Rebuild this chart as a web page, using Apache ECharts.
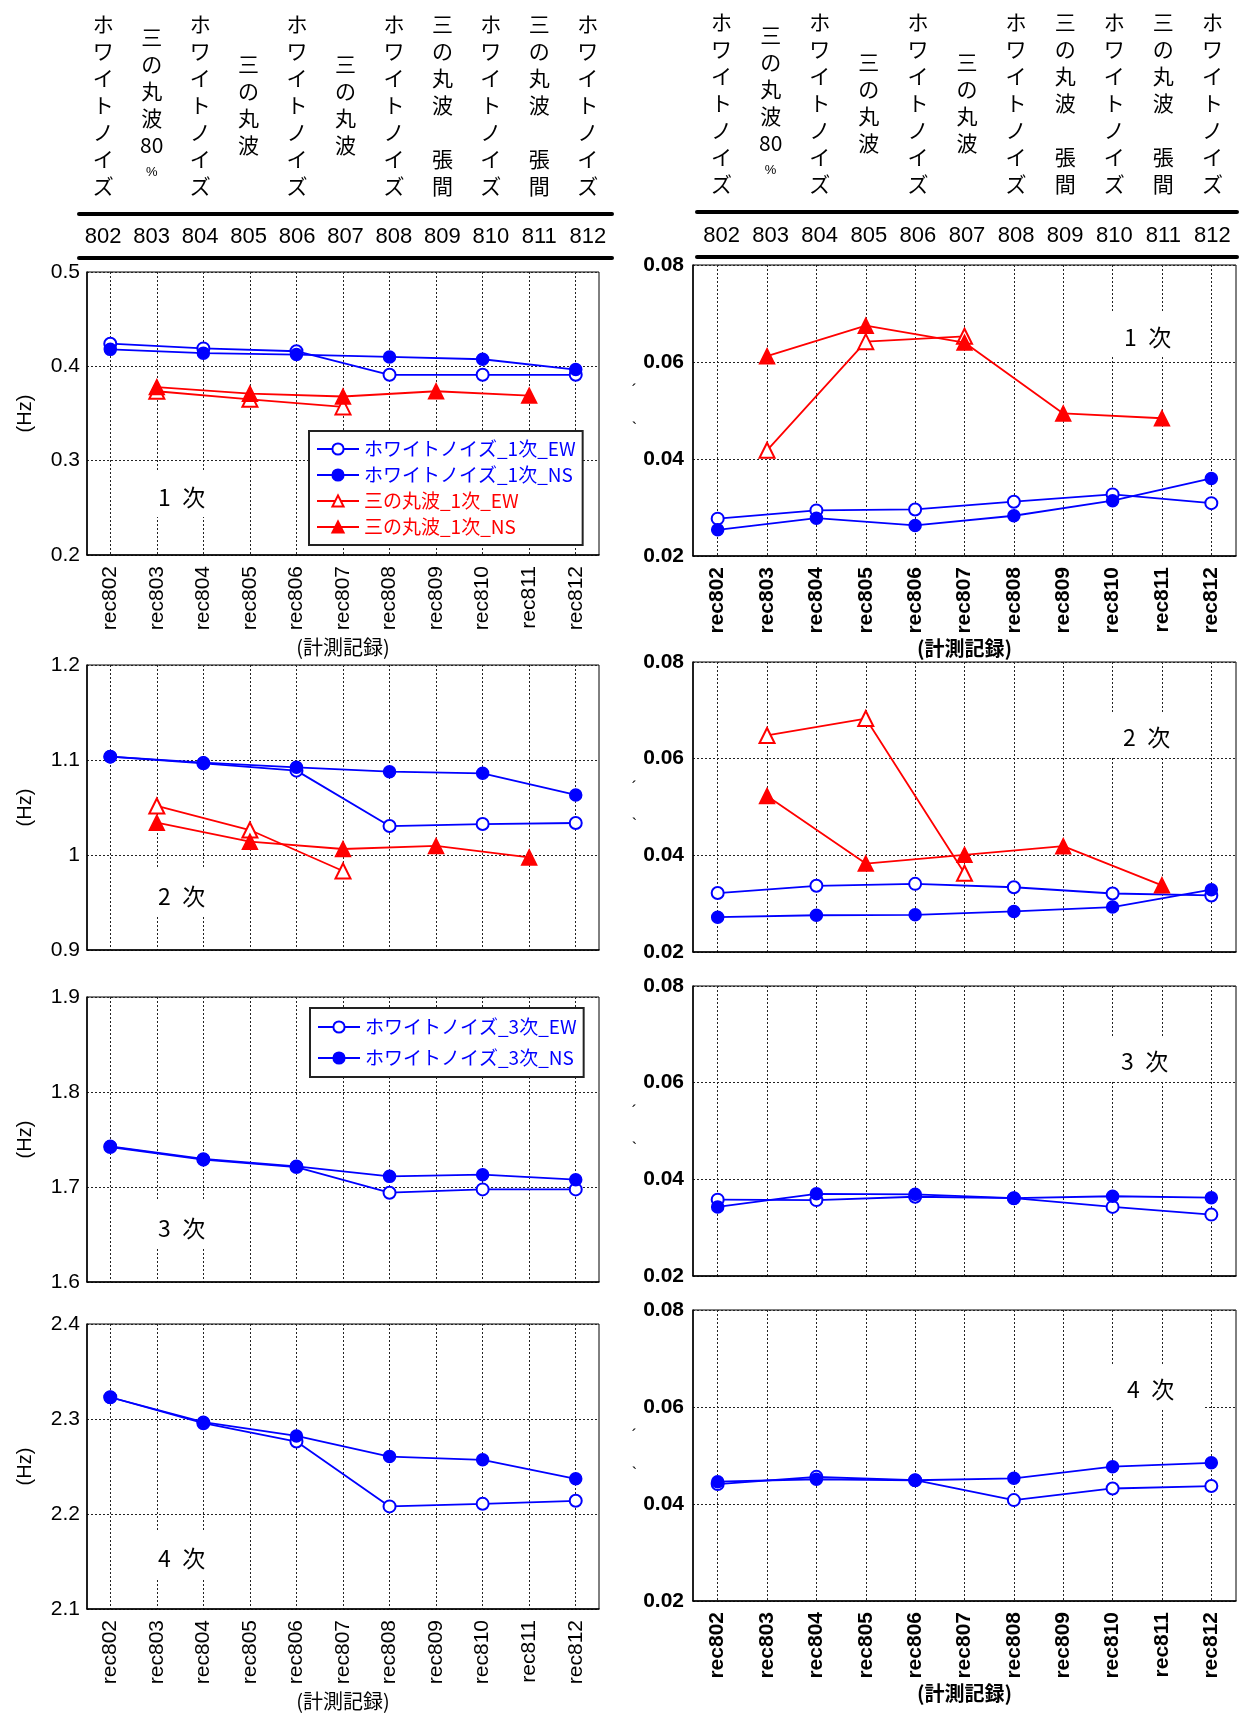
<!DOCTYPE html>
<html>
<head>
<meta charset="utf-8">
<script src="https://cdn.jsdelivr.net/npm/echarts@6/dist/echarts.min.js"></script>
<style>
  html, body { margin: 0; padding: 0; background: #fff; }
  #chart { width: 1242px; height: 1720px; }
</style>
</head>
<body>
<div id="chart"></div>
<script>
// 計測記録
var cats = ["rec802", "rec803", "rec804", "rec805", "rec806", "rec807", "rec808", "rec809", "rec810", "rec811", "rec812"];
var headerNums = ["802", "803", "804", "805", "806", "807", "808", "809", "810", "811", "812"];
var headerNames = ["ホワイトノイズ", "三の丸波80%", "ホワイトノイズ", "三の丸波", "ホワイトノイズ", "三の丸波",
  "ホワイトノイズ", "三の丸波　張間", "ホワイトノイズ", "三の丸波　張間", "ホワイトノイズ"];

// 振動数 (Hz)
var freq1_wnEW = [0.424, null, 0.419, null, 0.416, null, 0.391, null, 0.391, null, 0.391];
var freq1_wnNS = [0.418, null, 0.414, null, 0.4125, null, 0.410, null, 0.4075, null, 0.3966];
var freq1_sEW = [null, 0.3736, null, 0.365, null, 0.357, null, null, null, null, null];
var freq1_sNS = [null, 0.378, null, 0.371, null, 0.368, null, 0.3736, null, 0.369, null];

var freq2_wnEW = [1.1035, null, 1.0965, null, 1.0888, null, 1.0305, null, 1.0326, null, 1.0337];
var freq2_wnNS = [1.1035, null, 1.0972, null, 1.0923, null, 1.0877, null, 1.086, null, 1.0632];
var freq2_sEW = [null, 1.0516, null, 1.0263, null, 0.9832, null, null, null, null, null];
var freq2_sNS = [null, 1.034, null, 1.014, null, 1.0063, null, 1.0095, null, 0.9975, null];

var freq3_wnEW = [1.7421, null, 1.7288, null, 1.721, null, 1.694, null, 1.6975, null, 1.6975];
var freq3_wnNS = [1.7428, null, 1.7295, null, 1.7218, null, 1.7112, null, 1.713, null, 1.7077];

var freq4_wnEW = [2.3229, null, 2.2956, null, 2.2763, null, 2.208, null, 2.2107, null, 2.2139];
var freq4_wnNS = [2.3229, null, 2.2966, null, 2.2822, null, 2.2605, null, 2.257, null, 2.237];

// 減衰定数
var h1_wnEW = [0.0277, null, 0.0294, null, 0.0296, null, 0.0312, null, 0.0327, null, 0.0309];
var h1_wnNS = [0.0254, null, 0.0278, null, 0.0263, null, 0.0283, null, 0.0314, null, 0.036];
var h1_sEW = [null, 0.0418, null, 0.0642, null, 0.0653, null, null, null, null, null];
var h1_sNS = [null, 0.0612, null, 0.0675, null, 0.064, null, 0.0494, null, 0.0484, null];

var h2_wnEW = [0.0322, null, 0.0337, null, 0.0341, null, 0.0334, null, 0.0321, null, 0.0317];
var h2_wnNS = [0.0272, null, 0.0276, null, 0.0277, null, 0.0284, null, 0.0293, null, 0.0329];
var h2_sEW = [null, 0.0648, null, 0.0683, null, 0.0363, null, null, null, null, null];
var h2_sNS = [null, 0.0523, null, 0.0383, null, 0.0401, null, 0.0419, null, 0.0338, null];

var h3_wnEW = [0.0358, null, 0.0357, null, 0.0364, null, 0.0361, null, 0.0343, null, 0.0327];
var h3_wnNS = [0.0343, null, 0.037, null, 0.0369, null, 0.0361, null, 0.0365, null, 0.0362];

var h4_wnEW = [0.0441, null, 0.0456, null, 0.0449, null, 0.0408, null, 0.0432, null, 0.0437];
var h4_wnNS = [0.0446, null, 0.0451, null, 0.0449, null, 0.0453, null, 0.0477, null, 0.0485];

var BLUE = "#0000ff";
var RED = "#ff0000";
var LATIN = "'Liberation Sans', 'Noto Sans CJK JP', sans-serif";
var CJK = "'Noto Sans CJK JP', sans-serif";

var myChart = echarts.init(document.getElementById("chart"));

// パネル配置 (左: 振動数, 右: 減衰)
var panels = [
  { left: 87, top: 272, width: 512, height: 283, min: 0.2, max: 0.5, step: 0.1, side: "L", xText: true, tag: "1\u2002次", tagTop: 470 },
  { left: 693, top: 265, width: 543, height: 291, min: 0.02, max: 0.08, step: 0.02, side: "R", xText: true, tag: "1\u2002次", tagTop: 312, tagLeft: 1108 },
  { left: 87, top: 665, width: 512, height: 285, min: 0.9, max: 1.2, step: 0.1, side: "L", xText: false, tag: "2\u2002次", tagTop: 869 },
  { left: 693, top: 662, width: 543, height: 290, min: 0.02, max: 0.08, step: 0.02, side: "R", xText: false, tag: "2\u2002次", tagTop: 712, tagLeft: 1107 },
  { left: 87, top: 997, width: 512, height: 285, min: 1.6, max: 1.9, step: 0.1, side: "L", xText: false, tag: "3\u2002次", tagTop: 1201 },
  { left: 693, top: 986, width: 543, height: 290, min: 0.02, max: 0.08, step: 0.02, side: "R", xText: false, tag: "3\u2002次", tagTop: 1036, tagLeft: 1105 },
  { left: 87, top: 1324, width: 512, height: 285, min: 2.1, max: 2.4, step: 0.1, side: "L", xText: true, tag: "4\u2002次", tagTop: 1531 },
  { left: 693, top: 1310, width: 543, height: 291, min: 0.02, max: 0.08, step: 0.02, side: "R", xText: true, tag: "4\u2002次", tagTop: 1364, tagLeft: 1111 }
];

function verticalText(value) {
  var parts = value.match(/\d+|./g);
  return parts.map(function (c) {
    if (c === "　") return " ";
    if (c === "%") return "{p|%}";
    return c;
  }).join("\n");
}

var grids = [], xAxes = [], yAxes = [], titles = [];
panels.forEach(function (p, i) {
  var bold = p.side === "R" ? "bold" : "normal";
  grids.push({ left: p.left, top: p.top, width: p.width, height: p.height, show: true, borderColor: "#000", borderWidth: 1, backgroundColor: "#fff" });
  xAxes.push({
    gridIndex: i,
    type: "category",
    data: cats,
    boundaryGap: true,
    name: p.xText ? "(計測記録)" : "",
    nameLocation: "middle",
    nameGap: 82,
    nameTextStyle: { fontSize: 20, color: "#000", fontFamily: CJK, fontWeight: bold },
    axisLine: { show: true, onZero: false, lineStyle: { color: "#000", width: 1.5 } },
    axisTick: { show: false },
    axisLabel: {
      show: p.xText,
      interval: 0,
      rotate: 90,
      margin: 11,
      fontSize: 21,
      color: "#000",
      fontFamily: LATIN,
      fontWeight: bold
    },
    splitLine: {
      show: true,
      interval: 0,
      alignWithLabel: true,
      lineStyle: { color: "#222", width: 1, type: [2, 2] }
    }
  });
  yAxes.push({
    gridIndex: i,
    type: "value",
    min: p.min,
    max: p.max,
    interval: p.step,
    name: p.side === "L" ? "(Hz)" : "´\n\n\n`",
    nameLocation: "middle",
    nameGap: p.side === "L" ? 52 : 56,
    nameRotate: p.side === "L" ? 90 : 0,
    nameTextStyle: p.side === "L"
      ? { fontSize: 20, color: "#000", fontFamily: LATIN }
      : { fontSize: 16, color: "#000", fontFamily: LATIN, lineHeight: 12.5 },
    axisLine: { show: true, onZero: false, lineStyle: { color: "#000", width: 1.5 } },
    axisTick: { show: false },
    axisLabel: {
      margin: p.side === "L" ? 7 : 9,
      fontSize: 21,
      color: "#000",
      fontFamily: LATIN,
      fontWeight: bold
    },
    splitLine: { show: true, lineStyle: { color: "#222", width: 1, type: [2, 2] } }
  });
  titles.push({
    text: p.tag,
    left: p.side === "L" ? 144 : p.tagLeft,
    top: p.tagTop,
    padding: p.side === "L" ? [16, 14, 8, 14] : [14, 30, 8, 16],
    backgroundColor: "#fff",
    textStyle: { fontSize: 23, fontWeight: "normal", color: "#000", fontFamily: CJK }
  });
});

// ヘッダー表
var headers = [
  { left: 79, top: 214, width: 533, height: 44 },
  { left: 697, top: 212, width: 540, height: 45 }
];
headers.forEach(function (h) {
  var g = grids.length;
  grids.push({ left: h.left, top: h.top, width: h.width, height: h.height, show: false });
  xAxes.push({
    gridIndex: g,
    type: "category",
    position: "top",
    data: headerNames,
    boundaryGap: true,
    axisLine: { show: true, onZero: false, lineStyle: { color: "#000", width: 4 } },
    axisTick: { show: false },
    splitLine: { show: false },
    axisLabel: {
      interval: 0,
      margin: 109,
      verticalAlign: "middle",
      fontSize: 21,
      lineHeight: 27,
      color: "#000",
      fontFamily: CJK,
      formatter: verticalText,
      rich: { p: { fontSize: 13, lineHeight: 27, fontFamily: LATIN } }
    }
  });
  xAxes.push({
    gridIndex: g,
    type: "category",
    position: "bottom",
    data: headerNums,
    boundaryGap: true,
    axisLine: { show: true, onZero: false, lineStyle: { color: "#000", width: 4 } },
    axisTick: { show: false },
    splitLine: { show: false },
    axisLabel: {
      inside: true,
      interval: 0,
      margin: 21,
      verticalAlign: "middle",
      fontSize: 22,
      color: "#000",
      fontFamily: LATIN
    }
  });
  yAxes.push({ gridIndex: g, type: "value", min: 0, max: 1, show: false });
});

function wnLine(name, data, idx, filled) {
  return {
    type: "line", name: name, data: data, xAxisIndex: idx, yAxisIndex: idx,
    connectNulls: true,
    symbol: filled ? "circle" : "emptyCircle",
    symbolSize: 12,
    lineStyle: { color: BLUE, width: 1.8 },
    itemStyle: { color: BLUE, borderColor: BLUE, borderWidth: 1.5 },
    z: filled ? 4 : 3
  };
}
function sLine(name, data, idx, filled) {
  return {
    type: "line", name: name, data: data, xAxisIndex: idx, yAxisIndex: idx,
    connectNulls: true,
    symbol: filled ? "triangle" : "emptyTriangle",
    symbolSize: 15,
    lineStyle: { color: RED, width: 1.8 },
    itemStyle: { color: RED, borderColor: RED, borderWidth: 1.5 },
    z: filled ? 4 : 3
  };
}

var series = [
  wnLine("ホワイトノイズ_1次_EW", freq1_wnEW, 0, false),
  wnLine("ホワイトノイズ_1次_NS", freq1_wnNS, 0, true),
  sLine("三の丸波_1次_EW", freq1_sEW, 0, false),
  sLine("三の丸波_1次_NS", freq1_sNS, 0, true),

  wnLine("ホワイトノイズ_1次_EW", h1_wnEW, 1, false),
  wnLine("ホワイトノイズ_1次_NS", h1_wnNS, 1, true),
  sLine("三の丸波_1次_EW", h1_sEW, 1, false),
  sLine("三の丸波_1次_NS", h1_sNS, 1, true),

  wnLine("ホワイトノイズ_2次_EW", freq2_wnEW, 2, false),
  wnLine("ホワイトノイズ_2次_NS", freq2_wnNS, 2, true),
  sLine("三の丸波_2次_EW", freq2_sEW, 2, false),
  sLine("三の丸波_2次_NS", freq2_sNS, 2, true),

  wnLine("ホワイトノイズ_2次_EW", h2_wnEW, 3, false),
  wnLine("ホワイトノイズ_2次_NS", h2_wnNS, 3, true),
  sLine("三の丸波_2次_EW", h2_sEW, 3, false),
  sLine("三の丸波_2次_NS", h2_sNS, 3, true),

  wnLine("ホワイトノイズ_3次_EW", freq3_wnEW, 4, false),
  wnLine("ホワイトノイズ_3次_NS", freq3_wnNS, 4, true),
  wnLine("ホワイトノイズ_3次_EW", h3_wnEW, 5, false),
  wnLine("ホワイトノイズ_3次_NS", h3_wnNS, 5, true),

  wnLine("ホワイトノイズ_4次_EW", freq4_wnEW, 6, false),
  wnLine("ホワイトノイズ_4次_NS", freq4_wnNS, 6, true),
  wnLine("ホワイトノイズ_4次_EW", h4_wnEW, 7, false),
  wnLine("ホワイトノイズ_4次_NS", h4_wnNS, 7, true)
];

var legendBase = {
  orient: "vertical",
  itemWidth: 42,
  itemHeight: 14,
  selectedMode: false,
  backgroundColor: "#fff",
  borderColor: "#222",
  borderWidth: 2,
  textStyle: { fontSize: 19, fontFamily: CJK, lineHeight: 20 }
};

var option = {
  animation: false,
  backgroundColor: "#fff",
  textStyle: { fontFamily: LATIN },
  title: titles,
  grid: grids,
  xAxis: xAxes,
  yAxis: yAxes,
  legend: [
    Object.assign({}, legendBase, {
      left: 309, top: 431, itemGap: 6, padding: [8, 7],
      data: [
        { name: "ホワイトノイズ_1次_EW", textStyle: { color: BLUE } },
        { name: "ホワイトノイズ_1次_NS", textStyle: { color: BLUE } },
        { name: "三の丸波_1次_EW", textStyle: { color: RED } },
        { name: "三の丸波_1次_NS", textStyle: { color: RED } }
      ]
    }),
    Object.assign({}, legendBase, {
      left: 310, top: 1008, itemGap: 11, padding: [9, 7],
      data: [
        { name: "ホワイトノイズ_3次_EW", textStyle: { color: BLUE } },
        { name: "ホワイトノイズ_3次_NS", textStyle: { color: BLUE } }
      ]
    })
  ],
  series: series
};

myChart.setOption(option);
window.addEventListener("resize", function () {
  myChart.resize();
});
</script>
</body>
</html>
